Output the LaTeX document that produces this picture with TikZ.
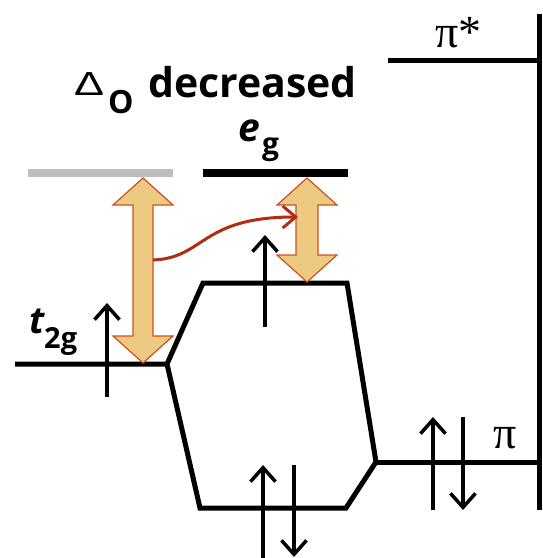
\documentclass[tikz,border=0pt]{standalone}
\usepackage{fontspec}
\usepackage{graphicx}
\setmainfont{Open Sans}
\newfontfamily\pifont{Liberation Serif}
\newfontfamily\greekfont{Liberation Sans}
\usetikzlibrary{arrows.meta}

\definecolor{tanfill}{RGB}{236,202,130}
\definecolor{arrowedge}{RGB}{205,80,30}
\definecolor{curvered}{RGB}{178,45,15}
\definecolor{oldlevel}{RGB}{190,190,190}

\begin{document}
\begin{tikzpicture}[
        x=1pt, y=-1pt,
        level/.style={line width=5pt, line join=miter},
        thicklevel/.style={line width=7.5pt},
        electron/.style={line width=3.5pt, -{Straight Barb[length=14pt, width=25pt]}},
        gap/.style={draw=arrowedge, fill=tanfill, line width=1.2pt, line join=miter},
        transfer/.style={draw=curvered, line width=3pt, -{Straight Barb[length=13pt, width=22pt]}},
        txt/.style={inner sep=0pt, anchor=base west}
    ]
        \useasboundingbox (0,0) rectangle (542,558);

        % energy levels
        \coordinate (t2gL) at (15,364);
        \coordinate (t2gR) at (167,364);
        \coordinate (topL) at (203,283);
        \coordinate (topR) at (347,283);
        \coordinate (piL) at (376,462);
        \coordinate (piR) at (539,462);
        \coordinate (botR) at (346,508);
        \coordinate (botL) at (200,508);
        \coordinate (axisT) at (539,14);
        \coordinate (axisB) at (539,510);
        \coordinate (pistarL) at (388,60);

        \draw[level] (t2gL) -- (t2gR) -- (topL) -- (topR) -- (piL) -- (botR) -- (botL) -- (t2gR);
        \draw[level] (piL) -- (piR);
        \draw[level] (pistarL) -- (539,60);
        \draw[level] (axisT) -- (axisB);
        \draw[thicklevel, oldlevel] (28,173) -- (173,173);
        \draw[thicklevel] (203,173) -- (348,173);

        % splitting arrows
        \draw[gap] (143,178) -- (173,205) -- (153,205) -- (153,336) -- (173,336) -- (143,363)
            -- (113,336) -- (133,336) -- (133,205) -- (113,205) -- cycle;
        \draw[gap] (307,178) -- (337,205) -- (318,205) -- (318,255) -- (337,255) -- (307,282)
            -- (277,255) -- (296,255) -- (296,205) -- (277,205) -- cycle;
        \draw[transfer] (153,260) .. controls (205,258) and (200,217) .. (298,217);

        % electrons
        \draw[electron] (107,397) -- (107,303);
        \draw[electron] (265,327) -- (265,235);
        \draw[electron] (263,560) -- (263,465);
        \draw[electron] (294,465) -- (294,557);
        \draw[electron] (433,510) -- (433,417);
        \draw[electron] (463,417) -- (463,510);

        % labels
        \node[txt] (delta) at (74,95) {\resizebox{30pt}{23pt}{\greekfont Δ}};
        \node[txt, font=\fontsize{32}{32}\selectfont\bfseries] (subO) at (108,113) {O};
        \node[txt, font=\fontsize{41}{41}\selectfont\bfseries] (decr) at (148,97) {decreased};
        \node[txt, font=\fontsize{39}{39}\selectfont\bfseries\itshape] (eg) at (238,141) {e};
        \node[txt, font=\fontsize{30}{30}\selectfont\bfseries] (egsub) at (262,154) {g};
        \node[txt, font=\fontsize{37}{37}\selectfont\bfseries\itshape] (t2g) at (29,333) {t};
        \node[txt, font=\fontsize{29}{29}\selectfont\bfseries] (t2gsub) at (44,348) {2g};
        \node[txt, font=\fontsize{46}{46}\selectfont\pifont] (pistar) at (435,47) {π*};
        \node[txt, font=\fontsize{46}{46}\selectfont\pifont] (pi) at (493,448) {π};
    \end{tikzpicture}
\end{document}
